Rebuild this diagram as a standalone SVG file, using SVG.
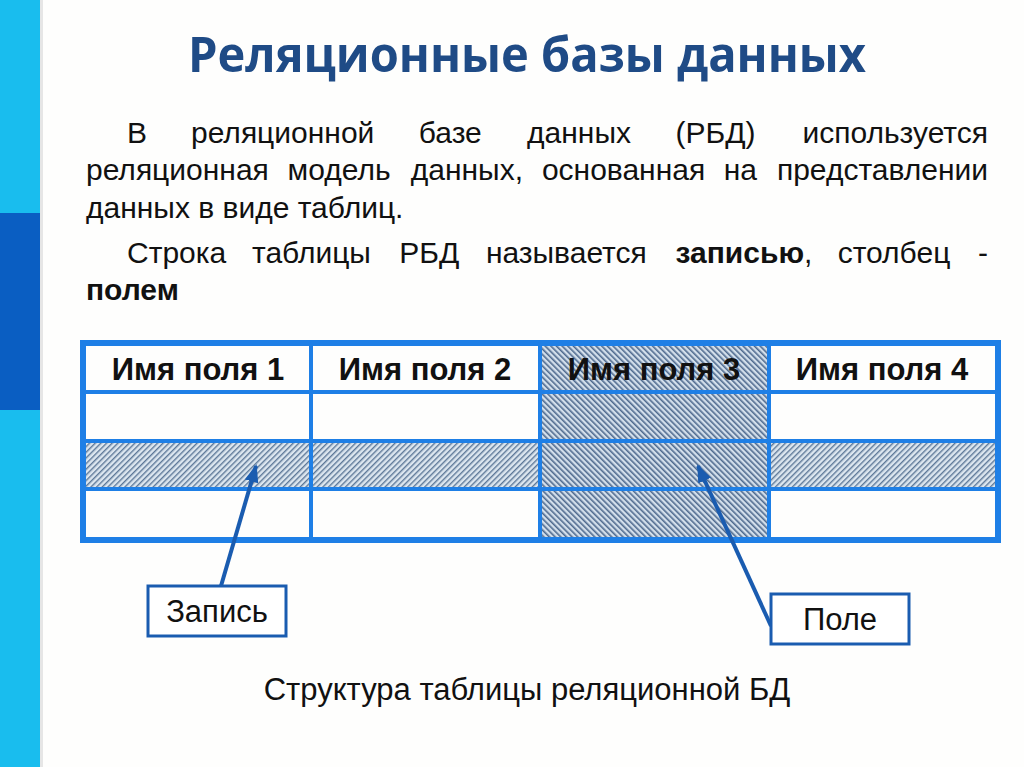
<svg xmlns="http://www.w3.org/2000/svg" width="1024" height="767" viewBox="0 0 1024 767">
<style>
.body{font-family:"Liberation Sans",Arial,sans-serif;font-size:30px;fill:#111}
.b{font-weight:bold}
.hdr{font-family:"Liberation Sans",Arial,sans-serif;font-size:31px;font-weight:bold;fill:#111;text-anchor:middle}
.lbl{font-family:"Liberation Sans",Arial,sans-serif;font-size:31px;fill:#111;text-anchor:middle}
.grid{stroke:#1E7FE6;stroke-width:4;fill:none}
.box{fill:#fff;stroke:#1A5CB0;stroke-width:3}
.arr{stroke:#1A5CB0;stroke-width:4;fill:none}
</style>
<defs>
<pattern id="hatchCol" width="4" height="4" patternUnits="userSpaceOnUse" patternTransform="rotate(-45)">
<rect width="4" height="4" fill="#d3dfeb"/><rect width="1.6" height="4" fill="#4f6a8e"/>
</pattern>
<pattern id="hatchRow" width="4" height="4" patternUnits="userSpaceOnUse" patternTransform="rotate(45)">
<rect width="4" height="4" fill="#dce6ef"/><rect width="1.4" height="4" fill="#5d7898"/>
</pattern>
<marker id="ah" markerUnits="userSpaceOnUse" markerWidth="18" markerHeight="14" refX="16" refY="7" orient="auto">
<path d="M0,0 L18,7 L0,14 z" fill="#1A5CB0"/>
</marker>
</defs>
<rect width="1024" height="767" fill="#fefefd"/>
<g id="sidebar">
<rect x="0" y="0" width="40" height="767" fill="#19BDEE"/>
<rect x="0" y="213" width="40" height="197" fill="#0A5EC2"/>
<rect x="40" y="0" width="3" height="767" fill="#e6e6e6"/>
</g>
<g id="title">
<text x="527" y="72" text-anchor="middle" textLength="678" lengthAdjust="spacingAndGlyphs" style="font-family:'Open Sans','Noto Sans',sans-serif;font-weight:bold;font-size:49px;fill:#1F4B86">Реляционные базы данных</text>
</g>
<g id="paragraph" class="body">
<text y="143"><tspan x="127">В</tspan><tspan x="191">реляционной</tspan><tspan x="418.8">базе</tspan><tspan x="527.1">данных</tspan><tspan x="675.5">(РБД)</tspan></text>
<text x="988" y="143" text-anchor="end">используется</text>
<text y="180"><tspan x="86">реляционная</tspan><tspan x="287.6">модель</tspan><tspan x="410.8">данных,</tspan><tspan x="541.9">основанная</tspan><tspan x="723.8">на</tspan></text>
<text x="988" y="180" text-anchor="end">представлении</text>
<text x="86" y="218">данных в виде таблиц.</text>
<text y="263"><tspan x="127">Строка</tspan><tspan x="252">таблицы</tspan><tspan x="399.2">РБД</tspan><tspan x="485.9">называется</tspan><tspan x="675.5" class="b">записью</tspan><tspan>,</tspan><tspan x="837.7">столбец</tspan></text>
<text x="988" y="263" text-anchor="end">-</text>
<text x="86" y="300" class="b">полем</text>
</g>
<g id="table">
<rect x="540" y="343" width="229" height="197" fill="url(#hatchCol)"/>
<rect x="86" y="441" width="454" height="48" fill="url(#hatchRow)"/>
<rect x="769" y="441" width="226" height="48" fill="url(#hatchRow)"/>
<rect x="540" y="441" width="229" height="48" fill="url(#hatchCol)"/>
<g class="grid">
<line x1="83" y1="392" x2="998" y2="392"/>
<line x1="83" y1="441" x2="998" y2="441"/>
<line x1="83" y1="489" x2="998" y2="489"/>
<line x1="311" y1="343" x2="311" y2="540"/>
<line x1="540" y1="343" x2="540" y2="540"/>
<line x1="769" y1="343" x2="769" y2="540"/>
</g>
<rect x="83" y="343" width="915" height="197" fill="none" stroke="#1E7FE6" stroke-width="6"/>
<text class="hdr" x="198" y="380">Имя поля 1</text>
<text class="hdr" x="425" y="380">Имя поля 2</text>
<text class="hdr" x="654" y="380">Имя поля 3</text>
<text class="hdr" x="882" y="380">Имя поля 4</text>
</g>
<g id="connectors">
<line class="arr" x1="221" y1="586" x2="256" y2="466" marker-end="url(#ah)"/>
<line class="arr" x1="771" y1="626" x2="698" y2="466" marker-end="url(#ah)"/>
</g>
<g id="node-zapis">
<rect class="box" x="148" y="586" width="138" height="50"/>
<text class="lbl" x="217" y="622">Запись</text>
</g>
<g id="node-pole">
<rect class="box" x="771" y="594" width="138" height="50"/>
<text class="lbl" x="840" y="630">Поле</text>
</g>
<g id="caption">
<text class="lbl" x="527" y="700">Структура таблицы реляционной БД</text>
</g>
</svg>
